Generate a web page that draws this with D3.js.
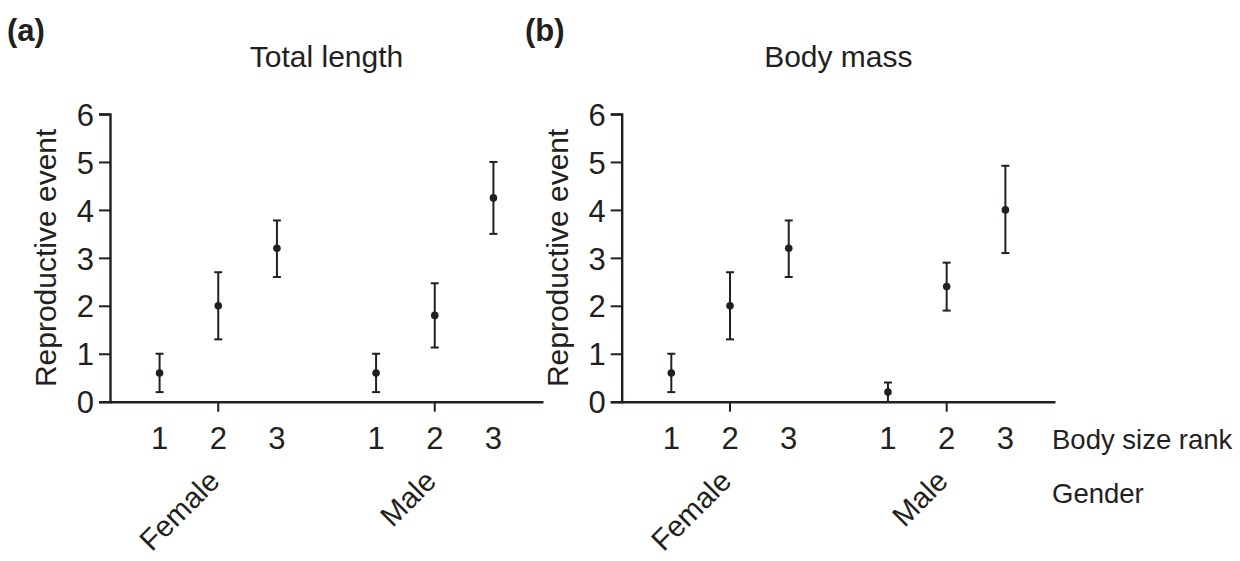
<!DOCTYPE html>
<html>
<head>
<meta charset="utf-8">
<script src="https://cdn.jsdelivr.net/npm/d3@7"></script>
<style>
  body { margin: 0; background: #fff; }
  svg text { font-family: "Liberation Sans", Arial, Helvetica, sans-serif; fill: #231f20; }
</style>
</head>
<body>
<div id="chart"></div>
<script>
// --- Data ---
const genders = ["Female", "Male"];
const ranks = [1, 2, 3];
const yTicks = [0, 1, 2, 3, 4, 5, 6];

// Total length panel (order: Female 1,2,3 then Male 1,2,3)
const lengthMean  = [0.6, 2.0, 3.2, 0.6, 1.8, 4.25];
const lengthLower = [0.2, 1.3, 2.6, 0.2, 1.13, 3.5];
const lengthUpper = [1.0, 2.7, 3.78, 1.0, 2.47, 5.0];

// Body mass panel
const massMean  = [0.6, 2.0, 3.2, 0.2, 2.4, 4.0];
const massLower = [0.2, 1.3, 2.6, 0.0, 1.9, 3.1];
const massUpper = [1.0, 2.7, 3.78, 0.4, 2.9, 4.92];

const ink = "#231f20";

const svg = d3.select("#chart").append("svg")
    .attr("width", 1240)
    .attr("height", 561);

// y scale shared by both panels
const yScale = d3.scaleLinear().domain([0, 6]).range([401.7, 114]);

function drawPanel(opts) {
    const g = svg.append("g");

    // outer band per gender, inner point per rank
    const xGender = d3.scaleBand()
        .domain(genders)
        .range([opts.x0, opts.x1])
        .padding(0);
    const xRank = d3.scalePoint()
        .domain(ranks)
        .range([0, xGender.bandwidth()])
        .padding(0.845);

    const rows = [];
    genders.forEach((gd, gi) => {
        ranks.forEach((r, ri) => {
            const i = gi * ranks.length + ri;
            rows.push({
                gender: gd, rank: r,
                mean: opts.mean[i], lo: opts.lower[i], hi: opts.upper[i],
                x: xGender(gd) + xRank(r)
            });
        });
    });

    // y axis
    const yAxis = g.append("g")
        .attr("transform", `translate(${opts.x0},0)`)
        .call(d3.axisLeft(yScale).tickValues(yTicks).tickSize(11).tickPadding(5).tickFormat(d3.format("d")));
    yAxis.select(".domain").attr("stroke", ink).attr("stroke-width", 2.4);
    yAxis.selectAll(".tick line").attr("stroke", ink).attr("stroke-width", 2);
    yAxis.selectAll(".tick text")
        .attr("fill", ink)
        .style("font-size", "31px")
        .attr("dy", "0.36em");

    // x axis (ticks only at group centres)
    const xAxis = g.append("g")
        .attr("transform", `translate(0,${yScale(0)})`)
        .call(d3.axisBottom(xGender).tickSize(10).tickSizeOuter(0).tickFormat(""));
    xAxis.select(".domain").attr("stroke", ink).attr("stroke-width", 2.4);
    xAxis.selectAll(".tick line").attr("stroke", ink).attr("stroke-width", 2);

    // rank labels
    g.selectAll(".rank-label")
        .data(rows)
        .join("text")
        .attr("class", "rank-label")
        .attr("x", d => d.x)
        .attr("y", 449)
        .attr("text-anchor", "middle")
        .style("font-size", "31px")
        .text(d => d.rank);

    // gender labels, rotated
    g.selectAll(".gender-label")
        .data(genders)
        .join("text")
        .attr("class", "gender-label")
        .attr("text-anchor", "end")
        .style("font-size", "29.5px")
        .attr("transform", d => `translate(${xGender(d) + xGender.bandwidth() / 2 + 3},${483}) rotate(-45)`)
        .text(d => d);

    // error bars
    const cap = 4;
    const bars = g.selectAll(".err")
        .data(rows)
        .join("g")
        .attr("class", "err")
        .attr("stroke", ink)
        .attr("stroke-width", 2);
    bars.append("line")
        .attr("x1", d => d.x).attr("x2", d => d.x)
        .attr("y1", d => yScale(d.lo)).attr("y2", d => yScale(d.hi));
    bars.append("line")
        .attr("x1", d => d.x - cap).attr("x2", d => d.x + cap)
        .attr("y1", d => yScale(d.hi)).attr("y2", d => yScale(d.hi));
    bars.filter(d => d.lo > 0).append("line")
        .attr("x1", d => d.x - cap).attr("x2", d => d.x + cap)
        .attr("y1", d => yScale(d.lo)).attr("y2", d => yScale(d.lo));

    // mean points
    g.selectAll(".pt")
        .data(rows)
        .join("circle")
        .attr("class", "pt")
        .attr("cx", d => d.x)
        .attr("cy", d => yScale(d.mean))
        .attr("r", 3.8)
        .attr("fill", ink);

    // y axis title
    g.append("text")
        .attr("text-anchor", "middle")
        .style("font-size", "30px")
        .attr("transform", `translate(${opts.x0 - 54},${(yScale(0) + yScale(6)) / 2}) rotate(-90)`)
        .text("Reproductive event");

    // panel title
    g.append("text")
        .attr("x", (opts.x0 + opts.x1) / 2)
        .attr("y", 67)
        .attr("text-anchor", "middle")
        .style("font-size", "30px")
        .text(opts.title);

    // panel letter
    g.append("text")
        .attr("x", opts.letterX)
        .attr("y", 41)
        .style("font-size", "31px")
        .style("font-weight", "bold")
        .text(opts.letter);
}

drawPanel({ x0: 110, x1: 543, mean: lengthMean, lower: lengthLower, upper: lengthUpper,
            title: "Total length", letter: "(a)", letterX: 7 });
drawPanel({ x0: 621.7, x1: 1055, mean: massMean, lower: massLower, upper: massUpper,
            title: "Body mass", letter: "(b)", letterX: 525 });

// right-hand row labels
svg.append("text")
    .attr("x", 1052)
    .attr("y", 449)
    .style("font-size", "27.5px")
    .text("Body size rank");
svg.append("text")
    .attr("x", 1052)
    .attr("y", 503)
    .style("font-size", "27.5px")
    .text("Gender");
</script>
</body>
</html>
